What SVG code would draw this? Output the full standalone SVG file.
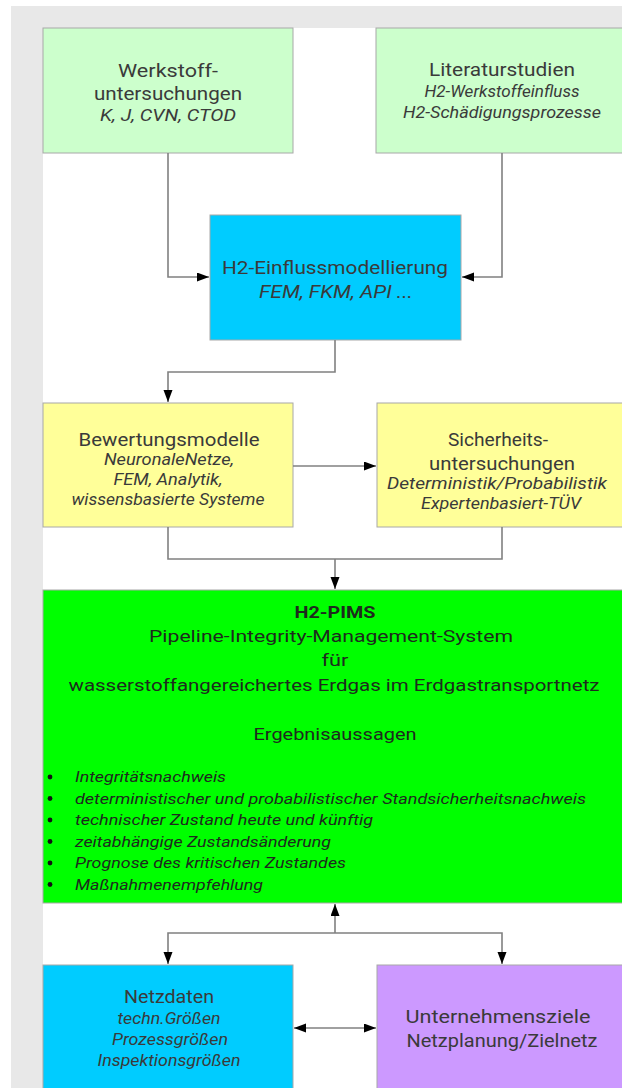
<svg xmlns="http://www.w3.org/2000/svg" width="622" height="1088" viewBox="0 0 622 1088">
<style>
.t{font-family:Roboto,"Liberation Sans",sans-serif;fill:#3a3a3a;text-anchor:middle;font-weight:400}
.n{font-size:19px}
.i{font-size:16px;font-style:italic}
.g{font-size:17px;fill:#1e2a1e}
.b{font-size:15px;font-style:italic;text-anchor:start;fill:#1e2a1e}
.box{stroke:#a8a8a8;stroke-width:1}
.c{fill:none;stroke:#808080;stroke-width:1.6}
</style>
<defs>
<marker id="ah" markerUnits="userSpaceOnUse" markerWidth="13" markerHeight="10" refX="12" refY="4.5" orient="auto-start-reverse">
<path d="M0,0 L12,4.5 L0,9 z" fill="#000"/>
</marker>
</defs>
<rect x="0" y="0" width="622" height="1088" fill="#fff"/>
<rect x="11" y="6" width="611" height="1082" fill="#e8e8e8"/>
<rect x="43" y="28" width="579" height="1060" fill="#fff"/>

<g id="werkstoff">
<rect class="box" x="43" y="28" width="250" height="125" fill="#ccffcc"/>
<text class="t n" x="168" y="77" textLength="100" lengthAdjust="spacingAndGlyphs">Werkstoff-</text>
<text class="t n" x="168" y="100" textLength="148" lengthAdjust="spacingAndGlyphs">untersuchungen</text>
<text class="t i" x="168" y="121" textLength="136" lengthAdjust="spacingAndGlyphs">K, J, CVN, CTOD</text>
</g>
<g id="literatur">
<rect class="box" x="376" y="28" width="252" height="125" fill="#ccffcc"/>
<text class="t n" x="502" y="76" textLength="146" lengthAdjust="spacingAndGlyphs">Literaturstudien</text>
<text class="t i" x="502" y="97" textLength="155" lengthAdjust="spacingAndGlyphs">H2-Werkstoffeinfluss</text>
<text class="t i" x="502" y="118" textLength="198" lengthAdjust="spacingAndGlyphs">H2-Schädigungsprozesse</text>
</g>
<g id="einfluss">
<rect class="box" x="210" y="215" width="251" height="125" fill="#00ccff"/>
<text class="t n" x="335" y="274" textLength="226" lengthAdjust="spacingAndGlyphs">H2-Einflussmodellierung</text>
<text class="t n" x="336" y="298" font-style="italic" textLength="154" lengthAdjust="spacingAndGlyphs">FEM, FKM, API ...</text>
</g>
<g id="bewertung">
<rect class="box" x="43" y="403" width="250" height="124" fill="#ffff99"/>
<text class="t n" x="169" y="446" textLength="181" lengthAdjust="spacingAndGlyphs">Bewertungsmodelle</text>
<text class="t i" x="169" y="465" textLength="130" lengthAdjust="spacingAndGlyphs">NeuronaleNetze,</text>
<text class="t i" x="168" y="485" textLength="109" lengthAdjust="spacingAndGlyphs">FEM, Analytik,</text>
<text class="t i" x="168" y="505" textLength="193" lengthAdjust="spacingAndGlyphs">wissensbasierte Systeme</text>
</g>
<g id="sicherheit">
<rect class="box" x="377" y="403" width="250" height="124" fill="#ffff99"/>
<text class="t n" x="498" y="446" textLength="100" lengthAdjust="spacingAndGlyphs">Sicherheits-</text>
<text class="t n" x="502" y="470" textLength="146" lengthAdjust="spacingAndGlyphs">untersuchungen</text>
<text class="t i" x="497" y="489" textLength="220" lengthAdjust="spacingAndGlyphs">Deterministik/Probabilistik</text>
<text class="t i" x="501" y="509" textLength="160" lengthAdjust="spacingAndGlyphs">Expertenbasiert-TÜV</text>
</g>
<g id="pims">
<rect class="box" x="43" y="590" width="584" height="313" fill="#00ff00"/>
<text class="t g" x="335" y="618" style="font-weight:700" fill="#111" textLength="81" lengthAdjust="spacingAndGlyphs">H2-PIMS</text>
<text class="t g" x="331" y="642" textLength="364" lengthAdjust="spacingAndGlyphs">Pipeline-Integrity-Management-System</text>
<text class="t g" x="335" y="666" textLength="27" lengthAdjust="spacingAndGlyphs">für</text>
<text class="t g" x="334" y="691" textLength="531" lengthAdjust="spacingAndGlyphs">wasserstoffangereichertes Erdgas im Erdgastransportnetz</text>
<text class="t g" x="335" y="740" textLength="163" lengthAdjust="spacingAndGlyphs">Ergebnisaussagen</text>
<g fill="#111">
<circle cx="50" cy="777" r="2.4"/>
<circle cx="50" cy="798.5" r="2.4"/>
<circle cx="50" cy="820" r="2.4"/>
<circle cx="50" cy="841.5" r="2.4"/>
<circle cx="50" cy="863" r="2.4"/>
<circle cx="50" cy="884.5" r="2.4"/>
</g>
<text class="t b" x="75" y="782" textLength="151" lengthAdjust="spacingAndGlyphs">Integritätsnachweis</text>
<text class="t b" x="75" y="803.5" textLength="511" lengthAdjust="spacingAndGlyphs">deterministischer und probabilistischer Standsicherheitsnachweis</text>
<text class="t b" x="75" y="825" textLength="298" lengthAdjust="spacingAndGlyphs">technischer Zustand heute und künftig</text>
<text class="t b" x="75" y="846.5" textLength="256" lengthAdjust="spacingAndGlyphs">zeitabhängige Zustandsänderung</text>
<text class="t b" x="75" y="868" textLength="271" lengthAdjust="spacingAndGlyphs">Prognose des kritischen Zustandes</text>
<text class="t b" x="75" y="889.5" textLength="188" lengthAdjust="spacingAndGlyphs">Maßnahmenempfehlung</text>
</g>
<g id="netzdaten">
<rect class="box" x="43" y="965" width="250" height="130" fill="#00ccff"/>
<text class="t n" x="169" y="1003" textLength="90" lengthAdjust="spacingAndGlyphs">Netzdaten</text>
<text class="t i" x="169" y="1024" textLength="103" lengthAdjust="spacingAndGlyphs">techn.Größen</text>
<text class="t i" x="170" y="1045" textLength="116" lengthAdjust="spacingAndGlyphs">Prozessgrößen</text>
<text class="t i" x="169" y="1066" textLength="143" lengthAdjust="spacingAndGlyphs">Inspektionsgrößen</text>
</g>
<g id="ziele">
<rect class="box" x="377" y="965" width="250" height="130" fill="#cc99ff"/>
<text class="t n" x="498" y="1023" textLength="185" lengthAdjust="spacingAndGlyphs">Unternehmensziele</text>
<text class="t n" x="502" y="1047" textLength="191" lengthAdjust="spacingAndGlyphs">Netzplanung/Zielnetz</text>
</g>

<g id="connectors">
<path class="c" d="M168,153 V277 H209" marker-end="url(#ah)"/>
<path class="c" d="M502,153 V277 H462" marker-end="url(#ah)"/>
<path class="c" d="M335,340 V372 H168 V402" marker-end="url(#ah)"/>
<path class="c" d="M293,466 H376" marker-end="url(#ah)"/>
<path class="c" d="M168,527 V559 H502 V527"/>
<path class="c" d="M335,559 V589" marker-end="url(#ah)"/>
<path class="c" d="M335,933 V904" marker-end="url(#ah)"/>
<path class="c" d="M168,964 V933 H502 V964" marker-start="url(#ah)" marker-end="url(#ah)"/>
<path class="c" d="M294,1028 H376" marker-start="url(#ah)" marker-end="url(#ah)"/>
</g>
</svg>
